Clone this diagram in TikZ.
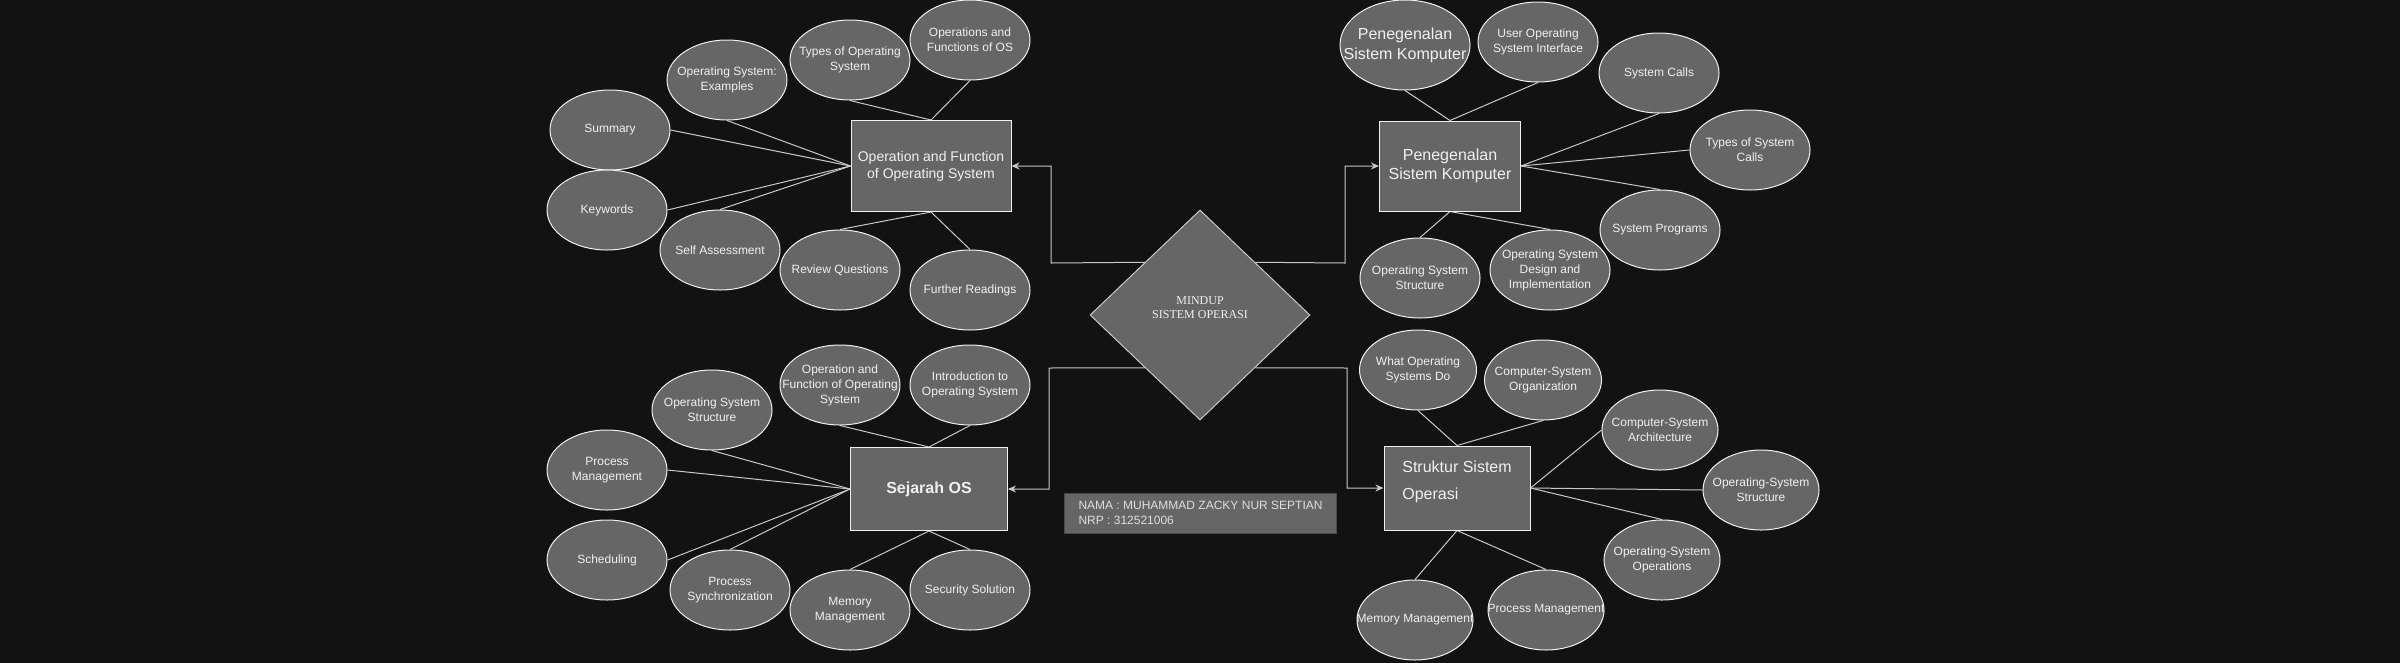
\documentclass[tikz,border=0pt]{standalone}
\usepackage{fontspec}
\setmainfont{Liberation Sans}
\newfontfamily\serifx{Liberation Serif}
\usetikzlibrary{shapes.geometric,arrows.meta,backgrounds}
\definecolor{bgc}{HTML}{121212}
\definecolor{fillc}{HTML}{666666}
\definecolor{linec}{HTML}{F0F0F0}
\definecolor{connc}{HTML}{C8C8C8}
\definecolor{txtc}{HTML}{F0F0F0}
\definecolor{namec}{HTML}{4A4A4A}
\tikzset{
  bub/.style={ellipse, draw=linec, line width=1pt, fill=fillc, minimum width=120pt, minimum height=80pt, inner sep=0pt},
  btxt/.style={text=txtc, font=\fontsize{12}{15}\selectfont, align=center, inner sep=0pt},
  topic/.style={rectangle, draw=linec, line width=1pt, fill=fillc, inner sep=0pt, text=txtc, align=center, font=\fontsize{14}{17}\selectfont},
  conn/.style={draw=connc, line width=1pt},
  arr/.style={draw=connc, line width=1pt, -{Stealth[length=8pt,width=7pt]}},
}
\newcommand{\bubble}[4][]{\node[bub,#1] (#2) at (#3) {}; \node[btxt] (#2-t) at (#2.center) {#4};}
\begin{document}
\begin{tikzpicture}[x=1pt,y=-1pt]
\useasboundingbox (0,0) rectangle (2400,662);
\begin{scope}[on background layer]
\fill[bgc] (-6,-6) rectangle (2406,668);
\end{scope}

% central diamond
\node[diamond, draw=connc, line width=1pt, fill=fillc, minimum width=220pt, minimum height=210pt, inner sep=0pt] (dia) at (1200,315) {};
\node[text=txtc, align=center, inner sep=0pt, font=\serifx\fontsize{12}{14}\selectfont] (dia-t) at ([yshift=7pt]dia.center) {MINDUP\\SISTEM OPERASI};

% topic boxes
\node[topic, minimum width=160pt, minimum height=91pt] (r1) at (931,166) {Operation and Function\\of Operating System};
\node[topic, minimum width=141pt, minimum height=90pt, font=\fontsize{16}{19}\selectfont] (r2) at (1450,166) {Penegenalan\\Sistem Komputer};
\node[topic, minimum width=157pt, minimum height=83pt, font=\bfseries\fontsize{16}{19}\selectfont] (r3) at (929,489) {Sejarah OS};
\node[topic, minimum width=146pt, minimum height=84pt, align=left, font=\fontsize{16}{27}\selectfont] (r4) at (1457,488) {Struktur Sistem\\Operasi\vphantom{g}\\[-12pt]};

% name box
\node[rectangle, draw=namec, line width=1pt, fill=fillc, minimum width=271pt, minimum height=40pt, inner xsep=14pt, inner ysep=0pt, align=left, text=txtc!92!black, font=\fontsize{12}{15}\selectfont] (nama) at (1200.5,513) {NAMA : MUHAMMAD ZACKY NUR SEPTIAN\\NRP : 312521006};

% bends of the diamond connectors
\coordinate (k1) at (1051,263);
\coordinate (k2) at (1345,263);
\coordinate (k3) at (1049,368);
\coordinate (k4) at (1347,368);
\draw[arr] (dia.north west) -- (k1) |- (r1.east);
\draw[arr] (dia.north east) -- (k2) |- (r2.west);
\draw[arr] (dia.south west) -- (k3) |- (r3.east);
\draw[arr] (dia.south east) -- (k4) |- (r4.west);

% ---- Operation and Function group
\bubble{a1}{970,40}{Operations and\\Functions of OS}
\bubble{a2}{850,60}{Types of Operating\\System}
\bubble{a3}{727,80}{Operating System:\\Examples}
\bubble{a4}{610,130}{Summary}
\bubble{a5}{607,210}{Keywords}
\bubble{a6}{720,250}{Self Assessment}
\bubble{a7}{840,270}{Review Questions}
\bubble{a8}{970,290}{Further Readings}
\begin{scope}[on background layer]
\draw[conn] (a1.south) -- (r1.north);
\draw[conn] (a2.south) -- (r1.north);
\draw[conn] (a3.south) -- (r1.west);
\draw[conn] (a4.east) -- (r1.west);
\draw[conn] (a5.east) -- (r1.west);
\draw[conn] (a6.north) -- (r1.west);
\draw[conn] (a7.north) -- (r1.south);
\draw[conn] (a8.north) -- (r1.south);
\end{scope}

% ---- Penegenalan group
\node[bub, minimum width=130pt, minimum height=90pt] (b1) at (1405,45) {};
\node[btxt, font=\fontsize{16}{20}\selectfont] (b1-t) at (b1.center) {Penegenalan\\Sistem Komputer};
\bubble{b2}{1538,42}{User Operating\\System Interface}
\bubble{b3}{1659,73}{System Calls}
\bubble{b4}{1750,150}{Types of System\\Calls}
\bubble{b5}{1660,230}{System Programs}
\bubble{b6}{1550,270}{Operating System\\Design and\\Implementation}
\bubble{b7}{1420,278}{Operating System\\Structure}
\begin{scope}[on background layer]
\draw[conn] (b1.south) -- (r2.north);
\draw[conn] (b2.south) -- (r2.north);
\draw[conn] (b3.south) -- (r2.east);
\draw[conn] (b4.west) -- (r2.east);
\draw[conn] (b5.north) -- (r2.east);
\draw[conn] (b6.north) -- (r2.south);
\draw[conn] (b7.north) -- (r2.south);
\end{scope}

% ---- Sejarah OS group
\bubble{c1}{840,385}{Operation and\\Function of Operating\\System}
\bubble{c2}{970,385}{Introduction to\\Operating System}
\bubble{c3}{712,410}{Operating System\\Structure}
\bubble{c4}{607,470}{Process\\Management}
\bubble{c5}{607,560}{Scheduling}
\bubble{c6}{730,590}{Process\\Synchronization}
\bubble{c7}{850,610}{Memory\\Management}
\bubble{c8}{970,590}{Security Solution}
\begin{scope}[on background layer]
\draw[conn] (c1.south) -- (r3.north);
\draw[conn] (c2.south) -- (r3.north);
\draw[conn] (c3.south) -- (r3.west);
\draw[conn] (c4.east) -- (r3.west);
\draw[conn] (c5.east) -- (r3.west);
\draw[conn] (c6.north) -- (r3.west);
\draw[conn] (c7.north) -- (r3.south);
\draw[conn] (c8.north) -- (r3.south);
\end{scope}

% ---- Struktur group
\bubble[minimum width=117pt]{d1}{1418,370}{What Operating\\Systems Do}
\bubble[minimum width=117pt]{d2}{1543,380}{Computer-System\\Organization}
\bubble[minimum width=116pt]{d3}{1660,430}{Computer-System\\Architecture}
\bubble[minimum width=116pt]{d4}{1761,490}{Operating-System\\Structure}
\bubble[minimum width=116pt]{d5}{1662,560}{Operating-System\\Operations}
\bubble[minimum width=116pt]{d6}{1546,610}{Process Management}
\bubble[minimum width=116pt]{d7}{1415,620}{Memory Management}
\begin{scope}[on background layer]
\draw[conn] (d1.south) -- (r4.north);
\draw[conn] (d2.south) -- (r4.north);
\draw[conn] (d3.west) -- (r4.east);
\draw[conn] (d4.west) -- (r4.east);
\draw[conn] (d5.north) -- (r4.east);
\draw[conn] (d6.north) -- (r4.south);
\draw[conn] (d7.north) -- (r4.south);
\end{scope}
\end{tikzpicture}
\end{document}
